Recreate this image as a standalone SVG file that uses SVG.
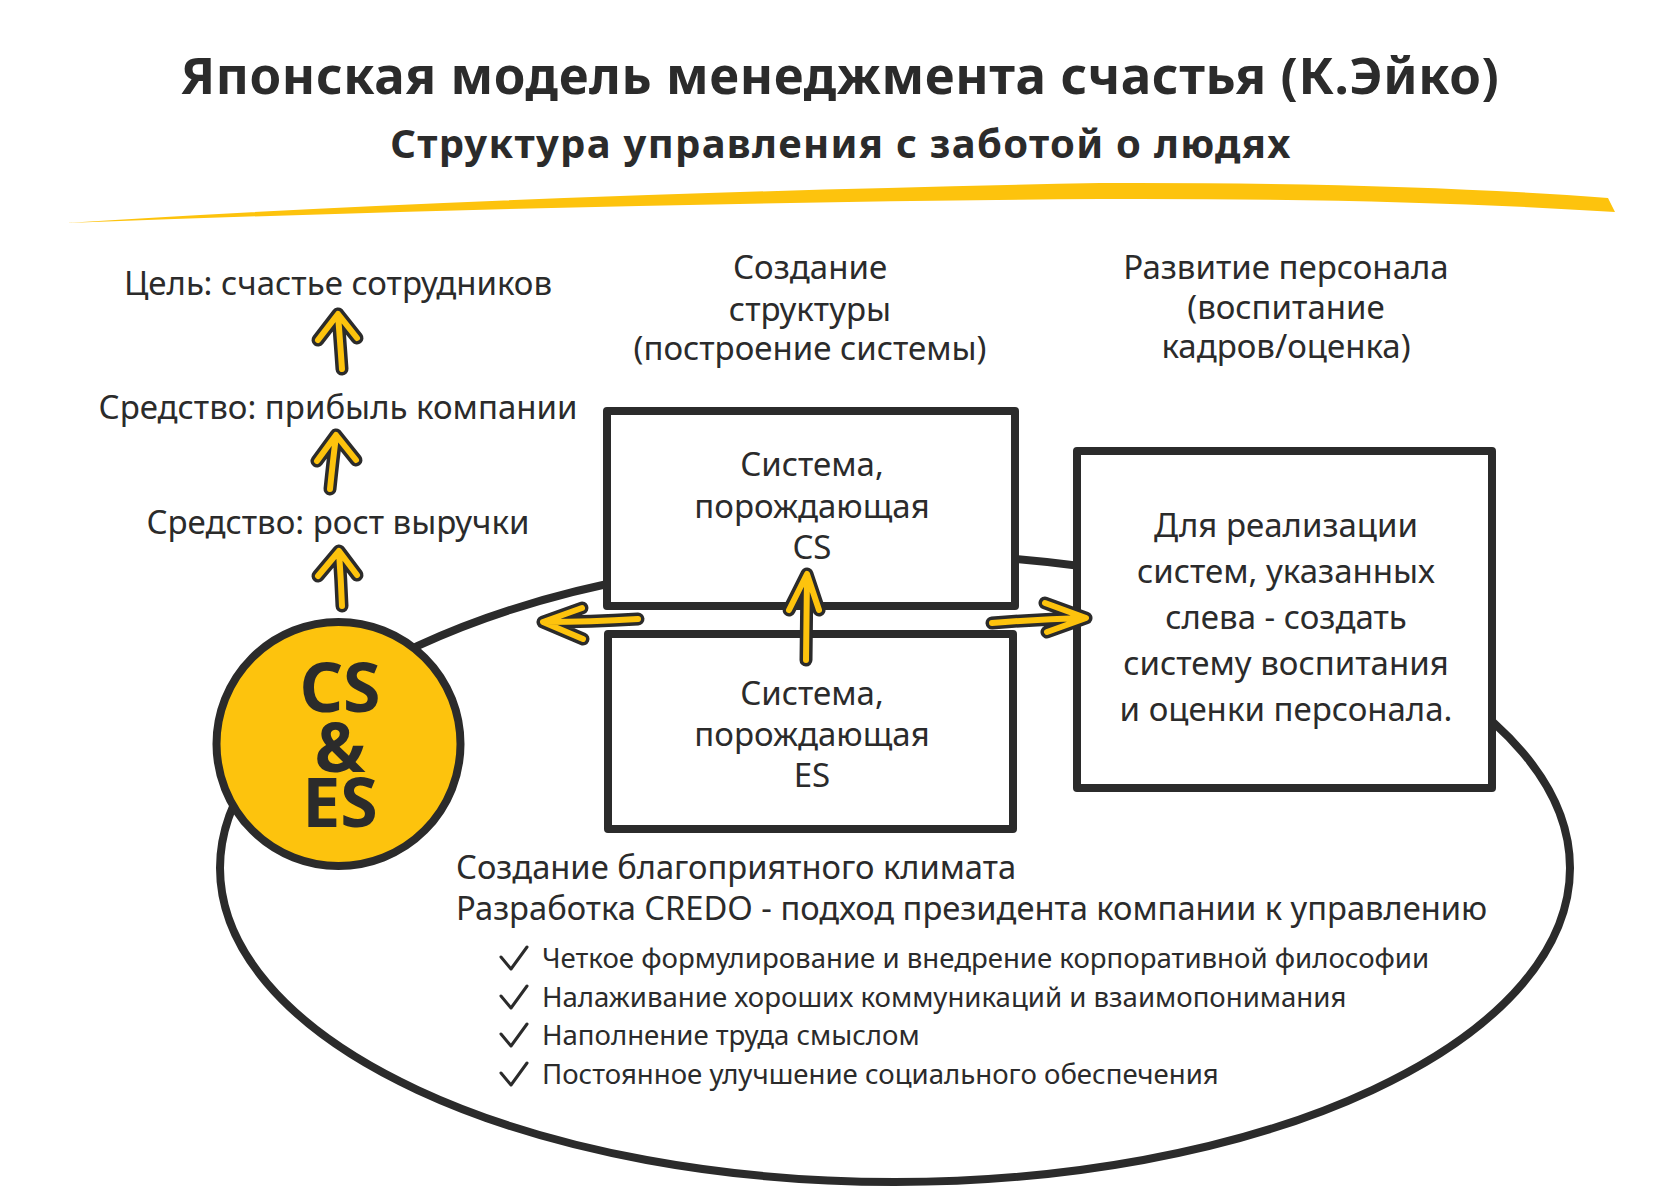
<svg xmlns="http://www.w3.org/2000/svg" width="1680" height="1201" viewBox="0 0 1680 1201">
<style>
.t{font-family:"Noto Sans","Open Sans",sans-serif;fill:#2b2b2b}
.title{font-size:51px;font-weight:700;letter-spacing:0.6px;text-anchor:middle}
.sub{font-size:40px;font-weight:700;letter-spacing:1.3px;text-anchor:middle}
.lbl{font-size:33px;text-anchor:middle}
.box{font-size:33px;text-anchor:middle}
.big{font-size:68px;font-weight:700;text-anchor:middle}
.body{font-size:32.7px}
.chk{font-size:27.6px}
.frame{fill:#fff;stroke:#2b2b2b;stroke-width:8;stroke-linejoin:round}
.ol{fill:none;stroke:#2b2b2b;stroke-width:13;stroke-linecap:round;stroke-linejoin:round}
.yl{fill:none;stroke:#fdc30d;stroke-width:6;stroke-linecap:round;stroke-linejoin:round}
.cm{fill:none;stroke:#2b2b2b;stroke-width:3;stroke-linecap:round;stroke-linejoin:round}
</style>
<rect width="1680" height="1201" fill="#fff"/>
<g id="header">
<text class="t title" x="840" y="94">Японская модель менеджмента счастья (К.Эйко)</text>
<text class="t sub" x="841" y="158">Структура управления с заботой о людях</text>
<path d="M66,223 Q500,195 1100,183 Q1400,182 1608,198 L1615,212 Q1400,198 1100,199 Q600,203 66,223 Z" fill="#fdc30d"/>
</g>
<g id="climate">
<ellipse cx="895" cy="868" rx="675" ry="314" fill="none" stroke="#2b2b2b" stroke-width="8"/>
<text class="t body" x="456" y="879">Создание благоприятного климата</text>
<text class="t body" x="456" y="920">Разработка CREDO - подход президента компании к управлению</text>
<path class="cm" d="M501,957 L511,969 L527,947"/>
<path class="cm" d="M501,996 L511,1008 L527,986"/>
<path class="cm" d="M501,1034 L511,1046 L527,1024"/>
<path class="cm" d="M501,1073 L511,1085 L527,1063"/>
<text class="t chk" x="542" y="968">Четкое формулирование и внедрение корпоративной философии</text>
<text class="t chk" x="542" y="1007">Налаживание хороших коммуникаций и взаимопонимания</text>
<text class="t chk" x="542" y="1045">Наполнение труда смыслом</text>
<text class="t chk" x="542" y="1084">Постоянное улучшение социального обеспечения</text>
</g>
<g id="goal">
<text class="t lbl" x="338" y="295">Цель: счастье сотрудников</text>
</g>
<g id="profit">
<text class="t lbl" x="338" y="419">Средство: прибыль компании</text>
</g>
<g id="revenue">
<text class="t lbl" x="338" y="534">Средство: рост выручки</text>
</g>
<g id="cses">
<circle cx="338.5" cy="744" r="122" fill="#fdc30d" stroke="#2b2b2b" stroke-width="8"/>
<text class="t big" x="340" y="712">CS</text>
<text class="t big" x="340" y="772">&amp;</text>
<text class="t big" x="340" y="827">ES</text>
</g>
<g id="structure-label">
<text class="t lbl" x="810" y="279">Создание</text>
<text class="t lbl" x="810" y="321">структуры</text>
<text class="t lbl" x="810" y="360">(построение системы)</text>
</g>
<g id="staff-label">
<text class="t lbl" x="1286" y="279">Развитие персонала</text>
<text class="t lbl" x="1286" y="319">(воспитание</text>
<text class="t lbl" x="1286" y="358">кадров/оценка)</text>
</g>
<g id="cs-system">
<rect class="frame" x="607" y="411" width="408" height="195"/>
<text class="t box" x="812" y="476">Система,</text>
<text class="t box" x="812" y="518">порождающая</text>
<text class="t box" x="812" y="559">CS</text>
</g>
<g id="es-system">
<rect class="frame" x="608" y="634" width="405" height="195"/>
<text class="t box" x="812" y="705">Система,</text>
<text class="t box" x="812" y="746">порождающая</text>
<text class="t box" x="812" y="787">ES</text>
</g>
<g id="staff-system">
<rect class="frame" x="1077" y="451" width="415" height="337"/>
<text class="t box" x="1286" y="537">Для реализации</text>
<text class="t box" x="1286" y="583">систем, указанных</text>
<text class="t box" x="1286" y="629">слева - создать</text>
<text class="t box" x="1286" y="675">систему воспитания</text>
<text class="t box" x="1286" y="721">и оценки персонала.</text>
</g>
<g id="connectors">
<g id="a1"><path class="ol" d="M342,369 Q340,340 338,315 M318,340 L338,314 L357,338"/><path class="yl" d="M342,369 Q340,340 338,315 M318,340 L338,314 L357,338"/></g>
<g id="a2"><path class="ol" d="M330,489 Q333,460 336,436 M317,461 L336,435 L356,460"/><path class="yl" d="M330,489 Q333,460 336,436 M317,461 L336,435 L356,460"/></g>
<g id="a3"><path class="ol" d="M342,606 Q341,580 339,552 M318,576 L339,551 L357,575"/><path class="yl" d="M342,606 Q341,580 339,552 M318,576 L339,551 L357,575"/></g>
<g id="a4"><path class="ol" d="M806,660 L807,576 M789,610 L807,574 L819,610"/><path class="yl" d="M806,660 L807,576 M789,610 L807,574 L819,610"/></g>
<g id="a5"><path class="ol" d="M638,619 Q590,622 545,622 M582,608 L543,622 L583,639"/><path class="yl" d="M638,619 Q590,622 545,622 M582,608 L543,622 L583,639"/></g>
<g id="a6"><path class="ol" d="M992,623 Q1040,619 1084,618 M1045,603 L1086,618 L1047,632"/><path class="yl" d="M992,623 Q1040,619 1084,618 M1045,603 L1086,618 L1047,632"/></g>
</g>
</svg>
